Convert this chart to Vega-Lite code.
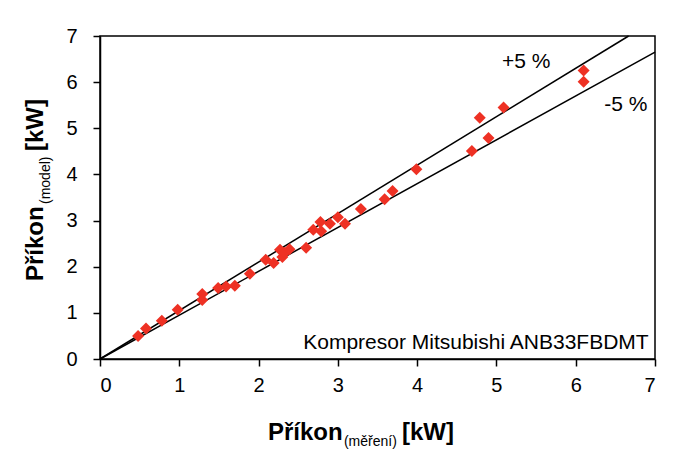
{
  "$schema": "https://vega.github.io/schema/vega-lite/v6.json",
  "autosize": "none",
  "width": 555,
  "height": 323,
  "padding": {"left": 100, "top": 36, "right": 18, "bottom": 94},
  "background": "white",
  "config": {
    "font": "Liberation Sans",
    "view": {"stroke": "black", "strokeWidth": 1.5},
    "text": {"font": "Liberation Sans"},
    "axis": {
      "grid": false,
      "domainColor": "black",
      "domainWidth": 1.5,
      "tickColor": "black",
      "tickWidth": 1.5,
      "tickSize": 7,
      "labelFontSize": 20,
      "labelColor": "black",
      "labelFont": "Liberation Sans",
      "format": "d",
      "title": null
    }
  },
  "datasets": {
    "points": [
      {"measured": 0.48, "model": 0.50},
      {"measured": 0.58, "model": 0.66},
      {"measured": 0.78, "model": 0.83},
      {"measured": 0.98, "model": 1.07},
      {"measured": 1.29, "model": 1.41},
      {"measured": 1.29, "model": 1.28},
      {"measured": 1.49, "model": 1.54},
      {"measured": 1.59, "model": 1.57},
      {"measured": 1.70, "model": 1.59},
      {"measured": 1.89, "model": 1.85},
      {"measured": 2.09, "model": 2.15},
      {"measured": 2.19, "model": 2.08},
      {"measured": 2.27, "model": 2.37},
      {"measured": 2.30, "model": 2.21},
      {"measured": 2.33, "model": 2.30},
      {"measured": 2.39, "model": 2.38},
      {"measured": 2.60, "model": 2.41},
      {"measured": 2.69, "model": 2.80},
      {"measured": 2.78, "model": 2.97},
      {"measured": 2.79, "model": 2.77},
      {"measured": 2.90, "model": 2.93},
      {"measured": 3.00, "model": 3.07},
      {"measured": 3.09, "model": 2.93},
      {"measured": 3.29, "model": 3.25},
      {"measured": 3.59, "model": 3.46},
      {"measured": 3.69, "model": 3.64},
      {"measured": 3.99, "model": 4.11},
      {"measured": 4.69, "model": 4.51},
      {"measured": 4.79, "model": 5.23},
      {"measured": 4.90, "model": 4.79},
      {"measured": 5.09, "model": 5.45},
      {"measured": 6.10, "model": 6.25},
      {"measured": 6.10, "model": 6.01}
    ],
    "lines": [
      {"line": "+5 %", "measured": 0, "model": 0},
      {"line": "+5 %", "measured": 6.667, "model": 7},
      {"line": "-5 %", "measured": 0, "model": 0},
      {"line": "-5 %", "measured": 7, "model": 6.65}
    ]
  },
  "layer": [
    {
      "data": {"name": "lines"},
      "mark": {"type": "line", "color": "black", "strokeWidth": 1.5},
      "encoding": {
        "x": {"field": "measured", "type": "quantitative", "scale": {"domain": [0, 7], "nice": false}, "axis": {"values": [0,1,2,3,4,5,6,7], "labelPadding": 9}},
        "y": {"field": "model", "type": "quantitative", "scale": {"domain": [0, 7], "nice": false}, "axis": {"values": [0,1,2,3,4,5,6,7], "labelPadding": 16}},
        "detail": {"field": "line"}
      }
    },
    {
      "data": {"name": "points"},
      "mark": {"type": "point", "shape": "diamond", "filled": true, "color": "#EE3124", "size": 144, "opacity": 1},
      "encoding": {
        "x": {"field": "measured", "type": "quantitative"},
        "y": {"field": "model", "type": "quantitative"}
      }
    },
    {
      "data": {"values": [
        {"text": "+5 %", "measured": 5.07, "model": 6.31},
        {"text": "-5 %", "measured": 6.36, "model": 5.38}
      ]},
      "mark": {"type": "text", "fontSize": 21, "color": "black", "baseline": "alphabetic", "align": "left"},
      "encoding": {
        "x": {"field": "measured", "type": "quantitative"},
        "y": {"field": "model", "type": "quantitative"},
        "text": {"field": "text"}
      }
    },
    {
      "data": {"values": [
        {"text": "Kompresor Mitsubishi ANB33FBDMT", "measured": 6.92, "model": 0.22}
      ]},
      "mark": {"type": "text", "fontSize": 21, "color": "black", "baseline": "alphabetic", "align": "right"},
      "encoding": {
        "x": {"field": "measured", "type": "quantitative"},
        "y": {"field": "model", "type": "quantitative"},
        "text": {"field": "text"}
      }
    },
    {
      "data": {"values": [
        {"t": "Příkon", "x": 2.119, "y": -1.755},
        {"t": "[kW]", "x": 3.809, "y": -1.755}
      ]},
      "mark": {"type": "text", "align": "left", "baseline": "alphabetic", "color": "black", "fontSize": 24, "fontWeight": "bold", "clip": false},
      "encoding": {
        "x": {"field": "x", "type": "quantitative"},
        "y": {"field": "y", "type": "quantitative"},
        "text": {"field": "t"}
      }
    },
    {
      "data": {"values": [
        {"t": "(měření)", "x": 3.077, "y": -1.886}
      ]},
      "mark": {"type": "text", "align": "left", "baseline": "alphabetic", "color": "black", "fontSize": 14, "clip": false},
      "encoding": {
        "x": {"field": "x", "type": "quantitative"},
        "y": {"field": "y", "type": "quantitative"},
        "text": {"field": "t"}
      }
    },
    {
      "data": {"values": [
        {"t": "Příkon", "x": -0.719, "y": 1.69},
        {"t": "[kW]", "x": -0.719, "y": 4.508}
      ]},
      "mark": {"type": "text", "align": "left", "baseline": "alphabetic", "angle": 270, "color": "black", "fontSize": 24, "fontWeight": "bold", "clip": false},
      "encoding": {
        "x": {"field": "x", "type": "quantitative"},
        "y": {"field": "y", "type": "quantitative"},
        "text": {"field": "t"}
      }
    },
    {
      "data": {"values": [
        {"t": "(model)", "x": -0.631, "y": 3.359}
      ]},
      "mark": {"type": "text", "align": "left", "baseline": "alphabetic", "angle": 270, "color": "black", "fontSize": 14, "clip": false},
      "encoding": {
        "x": {"field": "x", "type": "quantitative"},
        "y": {"field": "y", "type": "quantitative"},
        "text": {"field": "t"}
      }
    },
    {
      "mark": {"type": "rule", "color": "#8c8c8c", "strokeWidth": 1.5, "clip": false},
      "encoding": {
        "x": {"datum": -1.186},
        "y": {"datum": 7.61},
        "y2": {"datum": -2.1}
      }
    },
    {
      "mark": {"type": "rule", "color": "#8c8c8c", "strokeWidth": 1.5, "clip": false},
      "encoding": {
        "x": {"datum": -1.186},
        "x2": {"datum": 7.3},
        "y": {"datum": 7.61}
      }
    }
  ]
}
